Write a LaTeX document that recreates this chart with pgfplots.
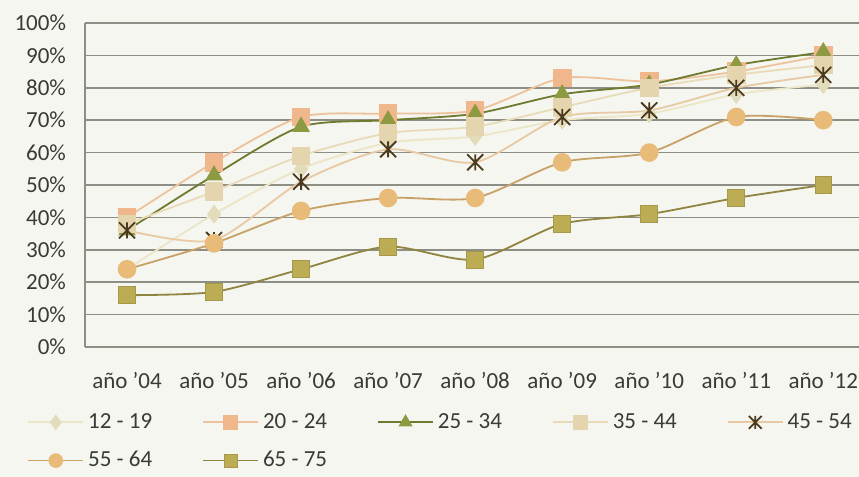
\documentclass[border=0pt]{standalone}
\usepackage{fontspec}
\setmainfont{Carlito}
\usepackage{pgfplots}
\pgfplotsset{compat=1.18}

\definecolor{bgc}{HTML}{F4F6EF}
\definecolor{gridc}{HTML}{8E8E84}
\definecolor{txtc}{HTML}{3A3A36}
\definecolor{aL}{HTML}{ECE5C6}\definecolor{aM}{HTML}{E2DCBA}
\definecolor{bL}{HTML}{EEC29C}\definecolor{bM}{HTML}{F1B78C}
\definecolor{cL}{HTML}{6E7A2E}\definecolor{cM}{HTML}{8E9A42}
\definecolor{dL}{HTML}{E9DBB8}\definecolor{dM}{HTML}{E4D5AE}
\definecolor{eL}{HTML}{E8C9A4}\definecolor{eM}{HTML}{4B3A1E}
\definecolor{fL}{HTML}{C9A066}\definecolor{fM}{HTML}{E8BB78}
\definecolor{gL}{HTML}{8F8440}\definecolor{gM}{HTML}{BCAD55}

% Excel-style star: an X with a short vertical bar
\pgfdeclareplotmark{xstar}{%
  \pgfpathmoveto{\pgfqpoint{-\pgfplotmarksize}{-\pgfplotmarksize}}%
  \pgfpathlineto{\pgfqpoint{\pgfplotmarksize}{\pgfplotmarksize}}%
  \pgfpathmoveto{\pgfqpoint{-\pgfplotmarksize}{\pgfplotmarksize}}%
  \pgfpathlineto{\pgfqpoint{\pgfplotmarksize}{-\pgfplotmarksize}}%
  \pgfpathmoveto{\pgfqpoint{0pt}{-\pgfplotmarksize}}%
  \pgfpathlineto{\pgfqpoint{0pt}{\pgfplotmarksize}}%
  \pgfusepathqstroke}

\begin{document}
\begin{tikzpicture}
\fill[bgc] (-42.5pt,-65pt) rectangle (387pt,173.5pt);
\useasboundingbox (-42.5pt,-65pt) rectangle (387pt,173.5pt);
\begin{axis}[
  scale only axis, width=387pt, height=162pt,
  xmin=-0.483, xmax=8.41, ymin=0, ymax=100,
  separate axis lines, axis x line*=bottom, axis y line*=left,
  axis line style={draw=gridc, line width=0.8pt},
  ymajorgrids, grid style={draw=gridc, line width=0.8pt},
  major tick length=0pt,
  ytick={0,10,...,100},
  yticklabel={\pgfmathparse{int(\tick)}\pgfmathresult\%},
  yticklabel style={xshift=-6pt},
  xtick={0,...,8},
  xticklabels={año '04, año '05, año '06, año '07, año '08, año '09, año '10, año '11, año '12},
  xticklabel style={yshift=-9pt},
  tick label style={font=\fontsize{11.5}{13}\selectfont, text=txtc},
  every axis plot/.append style={line width=0.9pt, smooth, tension=0.45},
  legend columns=5,
  legend cell align=left,
  legend style={at={(axis description cs:0,0)}, anchor=north west,
    xshift=-32pt, yshift=-29pt, draw=none, fill=none,
    font=\fontsize{11.5}{13}\selectfont, text=txtc, row sep=6pt,
    /tikz/every even column/.append style={column sep=23pt}},
  legend image code/.code={%
    \draw[mark repeat=2, mark phase=2, mark size=3.2pt] plot coordinates {(0pt,0pt) (13.75pt,0pt) (27.5pt,0pt)};},
]
\addplot[aL, mark=diamond*, mark size=4pt, mark options={solid, fill=aM, draw=aM}]
  coordinates {(0,24) (1,41) (2,55) (3,63) (4,65) (5,70) (6,72) (7,78) (8,81)};
\addlegendentry{12 - 19}
\addplot[bL, mark=square*, mark size=4.2pt, mark options={solid, fill=bM, draw=bM}]
  coordinates {(0,40) (1,57) (2,71) (3,72) (4,73) (5,83) (6,82) (7,85) (8,90)};
\addlegendentry{20 - 24}
\addplot[cL, mark=triangle*, mark size=4.2pt, mark options={solid, fill=cM, draw=cM}]
  coordinates {(0,36) (1,53) (2,68) (3,70) (4,72) (5,78) (6,81) (7,87) (8,91)};
\addlegendentry{25 - 34}
\addplot[dL, mark=square*, mark size=4.2pt, mark options={solid, fill=dM, draw=dM}]
  coordinates {(0,38) (1,48) (2,59) (3,66) (4,68) (5,74) (6,80) (7,84) (8,87)};
\addlegendentry{35 - 44}
\addplot[eL, mark=xstar, mark size=4pt, mark options={solid, draw=eM, line width=0.9pt}]
  coordinates {(0,36) (1,33) (2,51) (3,61) (4,57) (5,71) (6,73) (7,80) (8,84)};
\addlegendentry{45 - 54}
\addplot[fL, mark=*, mark size=4.2pt, mark options={solid, fill=fM, draw=fM}]
  coordinates {(0,24) (1,32) (2,42) (3,46) (4,46) (5,57) (6,60) (7,71) (8,70)};
\addlegendentry{55 - 64}
\addplot[gL, mark=square*, mark size=4.2pt, mark options={solid, fill=gM, draw=gL!50!gM, line width=0.4pt}]
  coordinates {(0,16) (1,17) (2,24) (3,31) (4,27) (5,38) (6,41) (7,46) (8,50)};
\addlegendentry{65 - 75}
\end{axis}
\end{tikzpicture}
\end{document}
